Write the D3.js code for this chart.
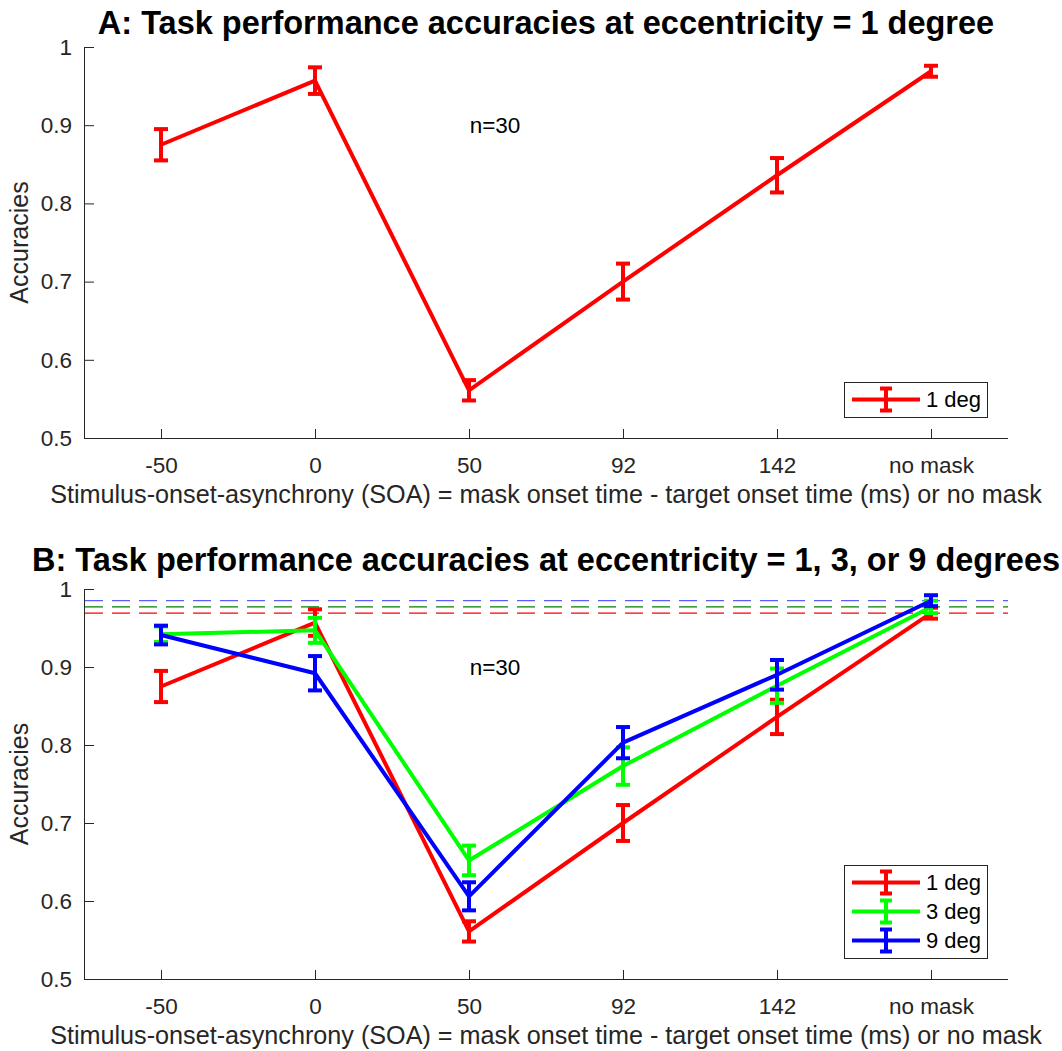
<!DOCTYPE html>
<html>
<head>
<meta charset="utf-8">
<script src="https://cdn.jsdelivr.net/npm/d3@7"></script>
<style>
  body { margin: 0; background: #fff; }
  svg { display: block; font-family: 'Liberation Sans', Arial, sans-serif; }
  .tick text { fill: #262626; }
</style>
</head>
<body>
<div id="container"></div>
<script>
// values
const soaLabels = ['-50', '0', '50', '92', '142', 'no mask'];
const yTicks = [0.5, 0.6, 0.7, 0.8, 0.9, 1];

const acc1deg = [0.875, 0.957, 0.561, 0.700, 0.836, 0.969];
const err1deg = [0.020, 0.017, 0.013, 0.023, 0.022, 0.007];
const acc3deg = [0.942, 0.947, 0.652, 0.773, 0.876, 0.977];
const err3deg = [0.010, 0.016, 0.019, 0.024, 0.022, 0.008];
const acc9deg = [0.941, 0.892, 0.606, 0.803, 0.890, 0.985];
const err9deg = [0.012, 0.022, 0.018, 0.020, 0.019, 0.007];

const seriesNames = ['1 deg', '3 deg', '9 deg'];
const sampleSize = 'n=30';

const width = 1062, height = 1051;
const axisColor = '#262626';

const series = [
  { name: seriesNames[0], acc: acc1deg, err: err1deg, color: '#ff0000', dash: '#ff0000' },
  { name: seriesNames[1], acc: acc3deg, err: err3deg, color: '#00ff00', dash: '#008000' },
  { name: seriesNames[2], acc: acc9deg, err: err9deg, color: '#0000ff', dash: '#5b5bff' }
];

const svg = d3.select('#container').append('svg')
  .attr('width', width)
  .attr('height', height);

const x = d3.scalePoint().domain(soaLabels).range([84, 1008]).padding(0.5);

drawPanel({
  top: 47, bottom: 438,
  title: 'A: Task performance accuracies at eccentricity = 1 degree',
  titleX: 546, titleY: 34,
  list: series.slice(0, 1),
  baselines: false,
  legend: { x: 844, y: 382, w: 143 }
});

drawPanel({
  top: 589, bottom: 979,
  title: 'B: Task performance accuracies at eccentricity = 1, 3, or 9 degrees',
  titleX: 546, titleY: 571,
  list: series,
  baselines: true,
  legend: { x: 844, y: 865, w: 143 }
});

function drawPanel(p) {
  const y = d3.scaleLinear().domain([0.5, 1]).range([p.bottom, p.top]);
  const g = svg.append('g');

  // title
  g.append('text')
    .attr('x', p.titleX)
    .attr('y', p.titleY)
    .attr('text-anchor', 'middle')
    .style('font-weight', 'bold')
    .style('font-size', '32.5px')
    .text(p.title);

  // axes, ticks inside like matlab
  const xAxis = g.append('g')
    .attr('transform', `translate(0, ${p.bottom})`)
    .call(d3.axisBottom(x).tickSize(-9).tickPadding(35));
  const yAxis = g.append('g')
    .attr('transform', 'translate(84, 0)')
    .call(d3.axisLeft(y).tickValues(yTicks).tickFormat(d3.format('')).tickSize(-10).tickPadding(12));

  [xAxis, yAxis].forEach((a) => {
    a.select('.domain').attr('stroke', axisColor).attr('d', null);
    a.selectAll('.tick line').attr('stroke', axisColor);
    a.selectAll('.tick text').style('font-size', '22.5px').attr('font-family', null);
  });
  xAxis.select('.domain').attr('d', `M84,0.5H1008`);
  yAxis.select('.domain').attr('d', `M0.5,${p.top}V${p.bottom}`);
  xAxis.selectAll('.tick text').attr('dy', '0');

  // axis labels
  g.append('text')
    .attr('x', 546)
    .attr('y', p.bottom + 65)
    .attr('text-anchor', 'middle')
    .style('font-size', '25.2px')
    .style('fill', axisColor)
    .text('Stimulus-onset-asynchrony (SOA) = mask onset time - target onset time (ms) or no mask');

  g.append('text')
    .attr('transform', `translate(28, ${(p.top + p.bottom) / 2}) rotate(-90)`)
    .attr('text-anchor', 'middle')
    .style('font-size', '25px')
    .style('fill', axisColor)
    .text('Accuracies');

  // reference level: no-mask accuracy of each eccentricity
  if (p.baselines) {
    g.selectAll('.baseline')
      .data(series)
      .enter()
      .append('line')
      .attr('class', 'baseline')
      .attr('x1', 85)
      .attr('x2', 1008)
      .attr('y1', (d) => y(d.acc[d.acc.length - 1]))
      .attr('y2', (d) => y(d.acc[d.acc.length - 1]))
      .attr('stroke', (d) => d.dash)
      .attr('stroke-width', 1.3)
      .attr('stroke-dasharray', '18,9');
  }

  g.append('text')
    .attr('x', x('50') + 26)
    .attr('y', y(0.9))
    .attr('dy', '0.35em')
    .attr('text-anchor', 'middle')
    .style('font-size', '22.5px')
    .text(sampleSize);

  const line = d3.line()
    .x((d, i) => x(soaLabels[i]))
    .y((d) => y(d));

  p.list.forEach((s) => {
    const sg = g.append('g');
    sg.append('path')
      .datum(s.acc)
      .attr('fill', 'none')
      .attr('stroke', s.color)
      .attr('stroke-width', 4)
      .attr('stroke-linejoin', 'round')
      .attr('d', line);

    const bars = sg.selectAll('.err')
      .data(s.acc.map((v, i) => ({ v: v, e: s.err[i], c: soaLabels[i] })))
      .enter()
      .append('g')
      .attr('stroke', s.color)
      .attr('stroke-width', 4);
    bars.append('line')
      .attr('x1', (d) => x(d.c)).attr('x2', (d) => x(d.c))
      .attr('y1', (d) => y(d.v - d.e)).attr('y2', (d) => y(d.v + d.e));
    bars.append('line')
      .attr('x1', (d) => x(d.c) - 7).attr('x2', (d) => x(d.c) + 7)
      .attr('y1', (d) => y(d.v - d.e)).attr('y2', (d) => y(d.v - d.e));
    bars.append('line')
      .attr('x1', (d) => x(d.c) - 7).attr('x2', (d) => x(d.c) + 7)
      .attr('y1', (d) => y(d.v + d.e)).attr('y2', (d) => y(d.v + d.e));
  });

  // legend
  const rowH = 29;
  const lg = g.append('g').attr('transform', `translate(${p.legend.x}, ${p.legend.y})`);
  lg.append('rect')
    .attr('x', 0.5).attr('y', 0.5)
    .attr('width', p.legend.w)
    .attr('height', 6 + rowH * p.list.length)
    .attr('fill', '#fff')
    .attr('stroke', axisColor)
    .attr('stroke-width', 1);
  p.list.forEach((s, i) => {
    const cy = 3 + rowH / 2 + i * rowH;
    const row = lg.append('g').attr('stroke', s.color).attr('stroke-width', 4);
    row.append('line').attr('x1', 8).attr('x2', 76).attr('y1', cy).attr('y2', cy);
    row.append('line').attr('x1', 42).attr('x2', 42).attr('y1', cy - 11).attr('y2', cy + 11);
    row.append('line').attr('x1', 36).attr('x2', 48).attr('y1', cy - 11).attr('y2', cy - 11);
    row.append('line').attr('x1', 36).attr('x2', 48).attr('y1', cy + 11).attr('y2', cy + 11);
    lg.append('text')
      .attr('x', 82)
      .attr('y', cy)
      .attr('dy', '0.35em')
      .style('font-size', '22px')
      .text(s.name);
  });
}
</script>
</body>
</html>
